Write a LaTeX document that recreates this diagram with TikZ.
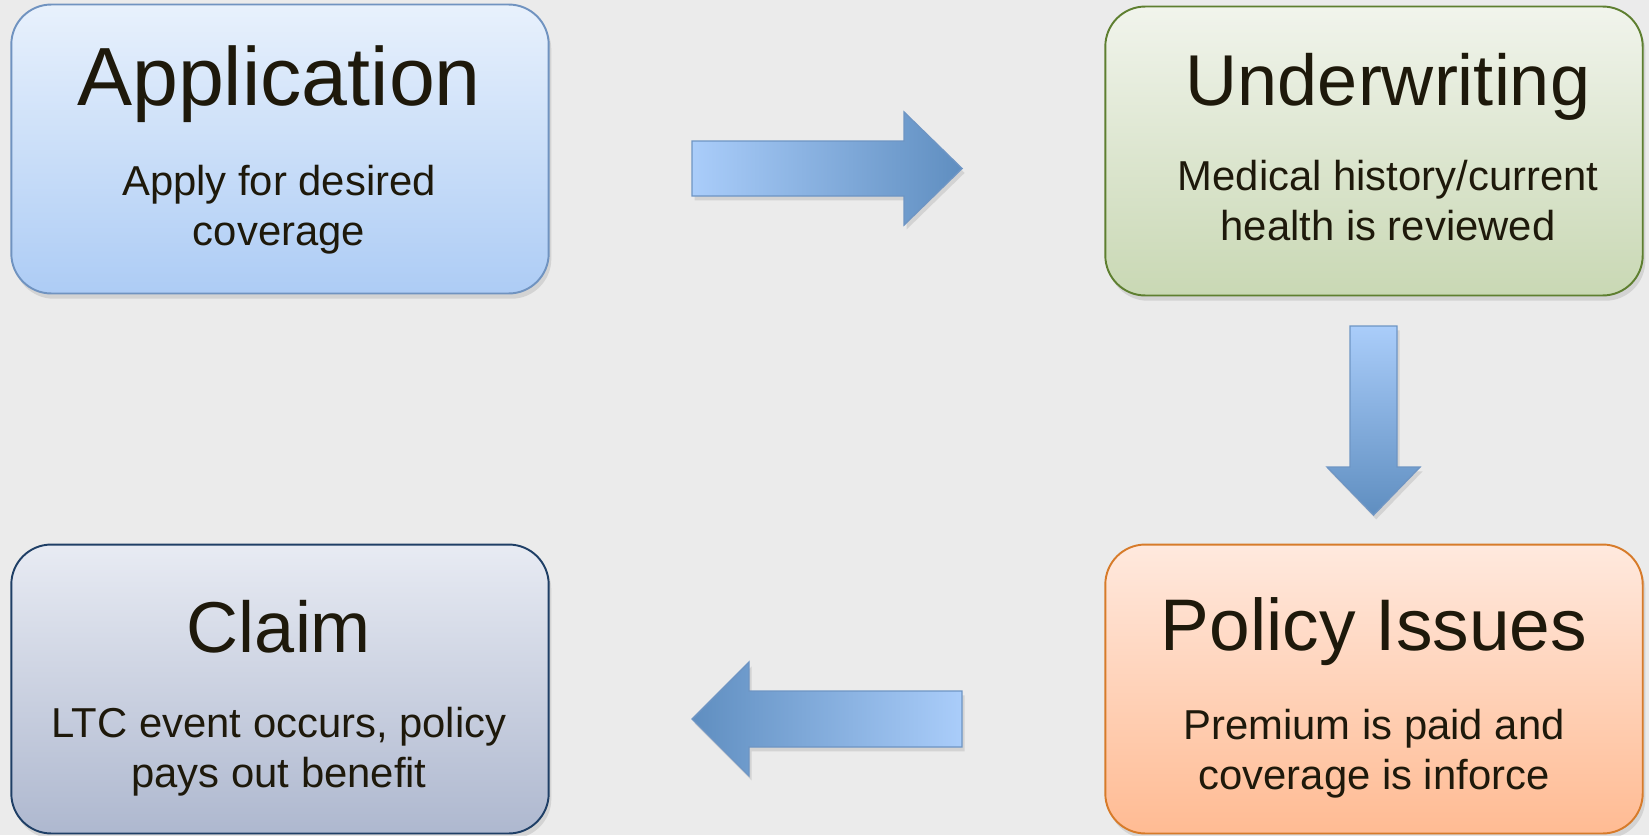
\documentclass[tikz,border=0pt]{standalone}
\usepackage{fontspec}
\setmainfont{Liberation Sans}
\usetikzlibrary{shadows}

\definecolor{bgGray}{HTML}{EBEBEB}
\definecolor{txtDark}{HTML}{1E190B}
\definecolor{appTop}{HTML}{E8F1FC}
\definecolor{appBot}{HTML}{ADCCF5}
\definecolor{appLine}{HTML}{7093C0}
\definecolor{uwTop}{HTML}{F1F4EC}
\definecolor{uwBot}{HTML}{C9D8B4}
\definecolor{uwLine}{HTML}{5E7F30}
\definecolor{clmTop}{HTML}{E8EBF3}
\definecolor{clmBot}{HTML}{AEB8CF}
\definecolor{clmLine}{HTML}{1F3F66}
\definecolor{polTop}{HTML}{FFE9DE}
\definecolor{polBot}{HTML}{FFBB93}
\definecolor{polLine}{HTML}{D77B2A}
\definecolor{arrLight}{HTML}{AACDFA}
\definecolor{arrDark}{HTML}{5F8EC0}
\definecolor{arrLine}{HTML}{6E95C4}

\begin{document}
\begin{tikzpicture}[
    x=0.02cm, y=-0.02cm,
    box/.style={draw, line width=1.1pt, rounded corners=0.8cm,
                minimum width=10.75cm, minimum height=5.78cm, inner sep=0pt,
                drop shadow={opacity=0.22, shadow xshift=1.5pt, shadow yshift=-3pt}},
    ttl/.style={anchor=base, inner sep=0pt, text=txtDark,
                font=\fontsize{41}{49}\selectfont},
    bdy/.style={anchor=base, inner sep=0pt, text=txtDark, align=center,
                font=\fontsize{23.8}{28.4}\selectfont},
    blk/.style={draw=arrLine, line width=0.8pt,
                drop shadow={opacity=0.22, shadow xshift=1.5pt, shadow yshift=-2.5pt}},
]

%% background and page size
\useasboundingbox (0,0) rectangle (1649,835);
\fill[bgGray] (0,0) rectangle (1649,835);

%% the four stages
\node[box, top color=appTop, bottom color=appBot, draw=appLine]  (app) at (280,149) {};
\node[box, top color=uwTop,  bottom color=uwBot,  draw=uwLine]   (uw)  at (1374,151) {};
\node[box, top color=polTop, bottom color=polBot, draw=polLine]  (pol) at (1374,689) {};
\node[box, top color=clmTop, bottom color=clmBot, draw=clmLine]  (clm) at (280,689) {};

%% titles and body text (body base = last line)
\node[ttl, font=\fontsize{47}{56}\selectfont] (appT) at (279,105) {Application};
\node[bdy] (appB) at (279,245) {Apply for desired\\coverage};

\node[ttl] (uwT) at (1388,105) {Underwriting};
\node[bdy] (uwB) at (1388,240) {Medical history/current\\health is reviewed};

\node[ttl, font=\fontsize{41.6}{50}\selectfont] (polT) at (1374,650) {Policy Issues};
\node[bdy] (polB) at (1374,789) {Premium is paid and\\coverage is inforce};

\node[ttl] (clmT) at (279,652) {Claim};
\node[bdy] (clmB) at (279,787) {LTC event occurs, policy\\pays out benefit};

%% block arrows
% application -> underwriting
\shade[blk, left color=arrLight, right color=arrDark]
    (692,141) -- (904,141) -- (904,112) -- (962,168.5)
    -- (904,225) -- (904,196) -- (692,196) -- cycle;

% underwriting -> policy issues
\shade[blk, top color=arrLight, bottom color=arrDark]
    (1350,326) -- (1397,326) -- (1397,467) -- (1420,467)
    -- (1373.5,515) -- (1327,467) -- (1350,467) -- cycle;

% policy issues -> claim
\shade[blk, left color=arrDark, right color=arrLight]
    (962,691) -- (749,691) -- (749,662) -- (692,719)
    -- (749,776) -- (749,747) -- (962,747) -- cycle;

\end{tikzpicture}
\end{document}
